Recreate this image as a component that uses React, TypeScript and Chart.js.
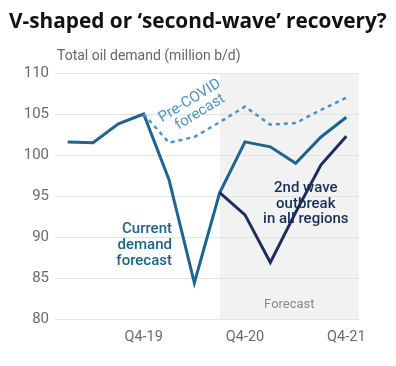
import React, { useEffect, useRef } from "react";
import { Chart, registerables } from "chart.js";

Chart.register(...registerables);

const quarters = ["Q1-19", "Q2-19", "Q3-19", "Q4-19", "Q1-20", "Q2-20", "Q3-20", "Q4-20", "Q1-21", "Q2-21", "Q3-21", "Q4-21"];
const currentDemand = [101.6, 101.5, 103.8, 105.0, 97.0, 84.4, 95.4, 101.6, 101.0, 99.0, 102.2, 104.6];
const preCovid = [null, null, null, 105.0, 101.5, 102.2, 104.0, 105.9, 103.7, 103.9, 105.5, 107.0];
const secondWave = [null, null, null, null, null, null, 95.4, 92.7, 86.9, 93.0, 98.8, 102.3];
const shownTicks = ["Q4-19", "Q4-20", "Q4-21"];
const forecastStart = "Q3-20";

const TITLE = "V-shaped or \u2018second-wave\u2019 recovery?";
const SUBTITLE = "Total oil demand (million b/d)";

const C_CURRENT = "#1d6491";
const C_WAVE = "#1b2f5c";
const C_PRE = "#4b93c9";
const FONT = "Roboto, 'Liberation Sans', sans-serif";

const overlay = {
  id: "overlay",
  beforeDraw(chart: any) {
    const { ctx, chartArea, scales } = chart;
    const x = scales.x.getPixelForValue(quarters.indexOf(forecastStart));
    ctx.save();
    ctx.fillStyle = "#f2f2f2";
    ctx.fillRect(x, chartArea.top, chartArea.right - x, chartArea.bottom - chartArea.top);
    ctx.restore();
  },
  afterDraw(chart: any) {
    const { ctx, chartArea, scales } = chart;
    const xs = scales.x;
    const ys = scales.y;
    ctx.save();
    // Title
    ctx.fillStyle = "#111";
    ctx.font = `bold 20.8px 'Open Sans', ${FONT}`;
    ctx.textAlign = "left";
    ctx.textBaseline = "alphabetic";
    ctx.fillText(TITLE, 9, 28);
    // Subtitle
    ctx.fillStyle = "#666";
    ctx.font = `14px ${FONT}`;
    ctx.fillText(SUBTITLE, chartArea.left + 2, 60);

    // Forecast label
    const fx = xs.getPixelForValue(quarters.indexOf(forecastStart));
    ctx.fillStyle = "#8a8a8a";
    ctx.font = `13px ${FONT}`;
    ctx.textAlign = "center";
    ctx.fillText("Forecast", (fx + chartArea.right) / 2, ys.getPixelForValue(81.4));

    // Current demand forecast
    ctx.fillStyle = C_CURRENT;
    ctx.font = `500 15px ${FONT}`;
    ctx.textAlign = "right";
    const cx = xs.getPixelForValue(4) + 3;
    ["Current", "demand", "forecast"].forEach((t, i) => {
      ctx.fillText(t, cx, ys.getPixelForValue(90.5) + i * 16);
    });

    // 2nd wave
    ctx.fillStyle = C_WAVE;
    ctx.textAlign = "center";
    const wx = xs.getPixelForValue(9.4);
    ["2nd wave", "outbreak", "in all regions"].forEach((t, i) => {
      ctx.fillText(t, wx, ys.getPixelForValue(95.5) + i * 15.7);
    });

    // Pre-COVID forecast (rotated)
    ctx.fillStyle = C_PRE;
    ctx.font = `15px ${FONT}`;
    const px = xs.getPixelForValue(4.9);
    const py = ys.getPixelForValue(106.2);
    ctx.translate(px, py);
    ctx.rotate(-0.55);
    ctx.textAlign = "center";
    ctx.fillText("Pre-COVID", 0, 0);
    ctx.fillText("forecast", 3, 15);
    ctx.restore();
  },
};

export default function App() {
  const ref = useRef<HTMLCanvasElement>(null);
  useEffect(() => {
    document.body.style.margin = "0";
    const chart = new Chart(ref.current!, {
      type: "line",
      data: {
        labels: quarters,
        datasets: [
          {
            label: "Pre-COVID forecast",
            data: preCovid,
            borderColor: C_PRE,
            borderWidth: 2.5,
            borderDash: [4, 4],
            pointRadius: 0,
            tension: 0,
          },
          {
            label: "2nd wave",
            data: secondWave,
            borderColor: C_WAVE,
            borderWidth: 3,
            pointRadius: 0,
            tension: 0,
          },
          {
            label: "Current demand forecast",
            data: currentDemand,
            borderColor: C_CURRENT,
            borderWidth: 3,
            pointRadius: 0,
            tension: 0,
          },
        ],
      },
      options: {
        responsive: false,
        animation: false,
        layout: { padding: { top: 73, right: 37, left: 0, bottom: 0 } },
        plugins: { legend: { display: false }, tooltip: { enabled: false }, title: { display: false } },
        scales: {
          x: {
            offset: true,
            border: { display: false },
            grid: { display: false, drawTicks: false },
            ticks: {
              autoSkip: false,
              maxRotation: 0,
              padding: 10,
              color: "#6b6b6b",
              font: { family: FONT, size: 14.5 },
              callback: (v: any) => (shownTicks.includes(quarters[v]) ? quarters[v] : ""),
            },
            afterFit: (s: any) => {
              s.height = 47;
            },
          },
          y: {
            min: 80,
            max: 110,
            border: { display: false },
            grid: { color: "#e4e4e4", drawTicks: false, lineWidth: 1 },
            ticks: {
              stepSize: 5,
              padding: 6,
              color: "#6b6b6b",
              font: { family: FONT, size: 15 },
            },
            afterFit: (s: any) => {
              s.width = 55;
            },
          },
        },
      },
      plugins: [overlay],
    });
    return () => chart.destroy();
  }, []);
  return (
    <div style={{ position: "fixed", left: 0, top: 0, width: 396, height: 366, background: "#fff" }}>
      <canvas ref={ref} width={396} height={366} />
    </div>
  );
}
